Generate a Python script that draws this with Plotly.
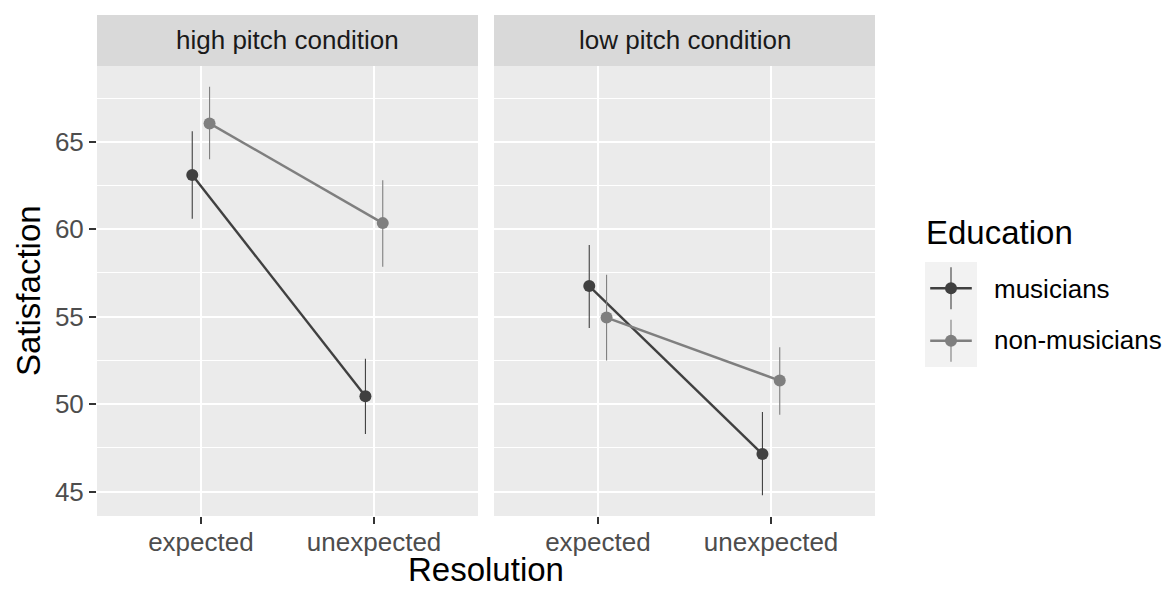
import plotly.graph_objects as go

# ---- data ----
resolution = ["expected", "unexpected"]
conditions = ["high pitch condition", "low pitch condition"]
groups = ["musicians", "non-musicians"]
group_colors = ["#404040", "#7F7F7F"]

# means [condition][group][resolution]
means = {
    "high pitch condition": {"musicians": [63.1, 50.45], "non-musicians": [66.05, 60.35]},
    "low pitch condition": {"musicians": [56.75, 47.15], "non-musicians": [54.95, 51.35]},
}
upper = {
    "high pitch condition": {"musicians": [65.6, 52.6], "non-musicians": [68.15, 62.8]},
    "low pitch condition": {"musicians": [59.1, 49.55], "non-musicians": [57.4, 53.25]},
}
lower = {
    "high pitch condition": {"musicians": [60.6, 48.3], "non-musicians": [64.0, 57.85]},
    "low pitch condition": {"musicians": [54.35, 44.8], "non-musicians": [52.5, 49.4]},
}
y_ticks = [45, 50, 55, 60, 65]
dodge = 0.05

W, H = 1168, 590
def px_x(p): return p / W
def px_y(p): return 1 - p / H

panel_x = [(97, 478), (494, 875)]
panel_top, panel_bot = 66, 516
strip_top = 15

fig = go.Figure()

for ci, cond in enumerate(conditions):
    xa = "x" if ci == 0 else "x2"
    ya = "y" if ci == 0 else "y2"
    for gi, g in enumerate(groups):
        off = -dodge if gi == 0 else dodge
        xs = [i + 1 + off for i in range(len(resolution))]
        col = group_colors[gi]
        # error bars (linerange)
        ex, ey = [], []
        for i, x in enumerate(xs):
            ex += [x, x, None]
            ey += [lower[cond][g][i], upper[cond][g][i], None]
        fig.add_trace(go.Scatter(x=ex, y=ey, mode="lines", xaxis=xa, yaxis=ya,
                                 line=dict(color=col, width=1.1), showlegend=False,
                                 hoverinfo="skip"))
        fig.add_trace(go.Scatter(x=xs, y=means[cond][g], mode="lines+markers",
                                 xaxis=xa, yaxis=ya, name=g,
                                 line=dict(color=col, width=2.4),
                                 marker=dict(color=col, size=12), showlegend=False))

# legend keys drawn in a small axes
for gi, g in enumerate(groups):
    col = group_colors[gi]
    yc = len(groups) - gi - 0.5
    fig.add_trace(go.Scatter(x=[0.5, 0.5], y=[yc - 0.4, yc + 0.4], mode="lines",
                             xaxis="x3", yaxis="y3", line=dict(color=col, width=1.1),
                             showlegend=False, hoverinfo="skip"))
    fig.add_trace(go.Scatter(x=[0.1, 0.5, 0.9], y=[yc, yc, yc], mode="lines",
                             xaxis="x3", yaxis="y3", line=dict(color=col, width=2.6),
                             showlegend=False, hoverinfo="skip"))
    fig.add_trace(go.Scatter(x=[0.5], y=[yc], mode="markers",
                             xaxis="x3", yaxis="y3", marker=dict(color=col, size=12),
                             showlegend=False, hoverinfo="skip"))

yr = [43.61, 69.33]
tickfont = dict(family="Liberation Sans, Arial, sans-serif", size=26, color="#4D4D4D")
common_x = dict(range=[0.4, 2.6], tickvals=[1, 2], ticktext=resolution, showgrid=True,
                gridcolor="white", gridwidth=2, zeroline=False, ticks="outside",
                ticklen=7, tickwidth=2, tickcolor="#333333", tickfont=tickfont,
                ticklabelstandoff=-4, fixedrange=True, showline=False)
common_y = dict(range=yr, tickvals=y_ticks, showgrid=True, gridcolor="white",
                gridwidth=2, zeroline=False,
                minor=dict(dtick=2.5, tick0=45, showgrid=True, gridcolor="white", gridwidth=1),
                fixedrange=True, showline=False)

fig.update_layout(
    width=W, height=H,
    margin=dict(l=0, r=0, t=0, b=0),
    paper_bgcolor="white", plot_bgcolor="rgba(0,0,0,0)",
    xaxis=dict(domain=[px_x(panel_x[0][0]), px_x(panel_x[0][1])], anchor="y", **common_x),
    xaxis2=dict(domain=[px_x(panel_x[1][0]), px_x(panel_x[1][1])], anchor="y2", **common_x),
    yaxis=dict(domain=[px_y(panel_bot), px_y(panel_top)], anchor="x", ticks="outside",
               ticklen=7, tickwidth=2, tickcolor="#333333", tickfont=tickfont, **common_y),
    yaxis2=dict(domain=[px_y(panel_bot), px_y(panel_top)], anchor="x2", matches="y",
                showticklabels=False, ticks="", **common_y),
    xaxis3=dict(domain=[px_x(925), px_x(977)], anchor="y3", range=[0, 1], visible=False,
                fixedrange=True),
    yaxis3=dict(domain=[px_y(367), px_y(262)], anchor="x3", range=[0, 2], visible=False,
                fixedrange=True),
    showlegend=False,
    font=dict(family="Liberation Sans, Arial, sans-serif"),
)

shapes = []
annotations = []
for ci, cond in enumerate(conditions):
    x0, x1 = panel_x[ci]
    shapes.append(dict(type="rect", xref="paper", yref="paper", x0=px_x(x0), x1=px_x(x1),
                       y0=px_y(panel_bot), y1=px_y(panel_top), fillcolor="#EBEBEB",
                       line=dict(width=0), layer="below"))
    shapes.append(dict(type="rect", xref="paper", yref="paper", x0=px_x(x0), x1=px_x(x1),
                       y0=px_y(panel_top), y1=px_y(strip_top), fillcolor="#D9D9D9",
                       line=dict(width=0), layer="below"))
    annotations.append(dict(text=cond, xref="paper", yref="paper", x=px_x((x0 + x1) / 2),
                            y=px_y((strip_top + panel_top) / 2), showarrow=False,
                            xanchor="center", yanchor="middle",
                            font=dict(size=26, color="#1A1A1A")))
# legend box
shapes.append(dict(type="rect", xref="paper", yref="paper", x0=px_x(925), x1=px_x(977),
                   y0=px_y(367), y1=px_y(262), fillcolor="#F2F2F2", line=dict(width=0),
                   layer="below"))
annotations.append(dict(text="Education", xref="paper", yref="paper", x=px_x(924),
                        y=px_y(232), showarrow=False, xanchor="left", yanchor="middle",
                        font=dict(size=33, color="black")))
for gi, g in enumerate(groups):
    annotations.append(dict(text=g, xref="paper", yref="paper", x=px_x(992),
                            y=px_y(289 + gi * 51.5), showarrow=False, xanchor="left",
                            yanchor="middle", font=dict(size=26, color="black")))
annotations.append(dict(text="Satisfaction", xref="paper", yref="paper", x=px_x(28),
                        y=px_y(291), showarrow=False, textangle=-90, xanchor="center",
                        yanchor="middle", font=dict(size=33, color="black")))
annotations.append(dict(text="Resolution", xref="paper", yref="paper", x=px_x(486),
                        y=0, showarrow=False, xanchor="center", yanchor="bottom",
                        font=dict(size=33, color="black")))
fig.update_layout(shapes=shapes, annotations=annotations)

fig.write_html("out.html", config={"displayModeBar": False},
               post_script="document.body.style.margin='0';document.body.style.overflow='hidden';")
